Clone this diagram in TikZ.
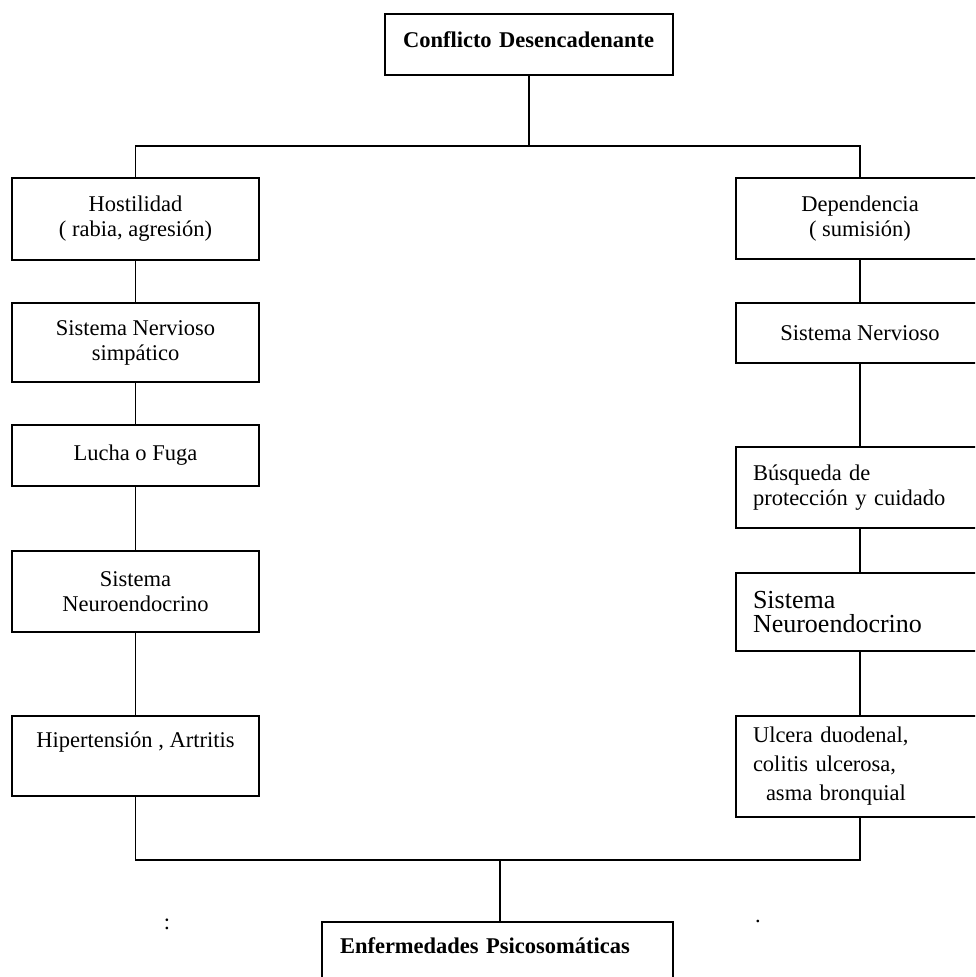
\documentclass[tikz,border=0pt]{standalone}
\usepackage{fontspec}
\setmainfont{Liberation Serif}
\begin{document}
\begin{tikzpicture}[x=1pt,y=-1pt,line width=1.3pt,
  caja/.style={draw,rectangle,inner sep=0pt,minimum width=247pt,align=center,
    font=\fontsize{22.5}{25}\selectfont},
  cajader/.style={caja,minimum width=248pt},
  negrita/.style={caja,font=\fontsize{22.5}{25}\selectfont\bfseries},
  suelto/.style={inner sep=0pt,anchor=base,font=\fontsize{22.5}{25}\selectfont}]
\useasboundingbox (0,0) rectangle (975,977);
\fill[white] (0,0) rectangle (975,977);
\clip (0,0) rectangle (975,977);
\node[negrita,minimum width=288pt,minimum height=61pt,text width=252pt,align=left,text height=16pt,text depth=11pt] (conflicto) at (529,44.5) {Conflicto Desencadenante};
\node[caja,minimum height=82pt] (hostilidad) at (135.5,219) {Hostilidad\\( rabia, agresión)};
\node[caja,minimum height=79pt] (simpatico) at (135.5,342.5) {Sistema Nervioso\\simpático};
\node[caja,minimum height=61pt] (lucha) at (135.5,455.5) {Lucha o Fuga};
\node[caja,minimum height=81pt] (neuroizq) at (135.5,591.5) {Sistema\\Neuroendocrino};
\node[caja,minimum height=80pt,text height=15pt,text depth=33pt] (hiper) at (135.5,756) {Hipertensión , Artritis};
\node[cajader,minimum height=81pt] (dependencia) at (860,218.5) {Dependencia\\( sumisión)};
\node[cajader,minimum height=60pt] (nervioso) at (860,333) {Sistema Nervioso};
\node[cajader,minimum height=81pt,text width=214pt,align=left] (busqueda) at (860,487.5) {Búsqueda de\\protección y cuidado};
\node[cajader,minimum height=78pt,text width=214pt,align=left,font=\fontsize{26}{24}\selectfont] (neuroder) at (860,612) {Sistema\\Neuroendocrino};
\node[cajader,minimum height=101pt,text width=214pt,align=left,font=\fontsize{22.5}{29}\selectfont] (ulcera) at (860,766.5) {Ulcera duodenal,\\colitis ulcerosa,\\\hspace*{13pt}asma bronquial};
\node[negrita,minimum width=351pt,minimum height=80pt,text width=315pt,align=left,text height=15pt,text depth=33pt] (enfermedades) at (497.5,962) {Enfermedades Psicosomáticas};
\node[suelto] (puntos) at (167,929) {:};
\node[suelto] (punto) at (758,922) {.};
\coordinate (arriba) at (529,146);
\coordinate (abajo) at (500,860);
\draw (conflicto.south) -- (arriba);
\draw (hostilidad.north) |- (arriba) -| (dependencia.north);
\draw (hostilidad) -- (simpatico) -- (lucha) -- (neuroizq) -- (hiper);
\draw (dependencia) -- (nervioso) -- (busqueda) -- (neuroder) -- (ulcera);
\draw (hiper.south) |- (abajo) -| (ulcera.south);
\draw (abajo) -- (abajo |- enfermedades.north);
\end{tikzpicture}
\end{document}
